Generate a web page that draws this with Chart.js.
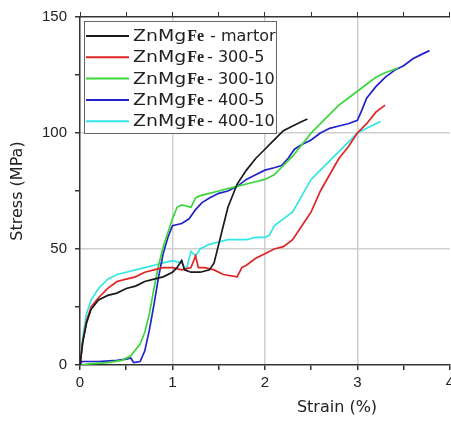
<!DOCTYPE html>
<html>
<head>
<meta charset="utf-8">
<script src="https://cdn.jsdelivr.net/npm/chart.js@4"></script>
<style>
  html, body { margin: 0; padding: 0; background: #fff; overflow: hidden; }
  #wrap { width: 458px; height: 423px; }
</style>
</head>
<body>
<div id="wrap"><canvas id="stressChart"></canvas></div>
<script>
// Curvas tensão x deformação
const seriesLabels = ['ZnMg Fe - martor', 'ZnMg Fe - 300-5', 'ZnMg Fe - 300-10', 'ZnMg Fe - 400-5', 'ZnMg Fe - 400-10'];
const seriesColors = ['#1a1a1a', '#e02424', '#3ad63a', '#2222cc', '#33e6e6'];

const martorStrain = [0, 0.03, 0.07, 0.12, 0.2, 0.3, 0.4, 0.5, 0.6, 0.7, 0.8, 0.9, 1.0, 1.05, 1.1, 1.13, 1.2, 1.3, 1.4, 1.45, 1.5, 1.55, 1.6, 1.7, 1.8, 1.9, 2.0, 2.1, 2.2, 2.3, 2.4, 2.46];
const martorStress = [0, 10, 18, 24, 28, 30, 31, 33, 34, 36, 37, 38, 40, 42, 45, 41, 40, 40, 41, 44, 52, 60, 68, 78, 84, 89, 93, 97, 101, 103, 105, 106];

const s3005Strain = [0, 0.03, 0.07, 0.12, 0.2, 0.3, 0.4, 0.5, 0.6, 0.7, 0.8, 0.9, 1.0, 1.1, 1.2, 1.25, 1.28, 1.35, 1.45, 1.55, 1.7, 1.75, 1.8, 1.9, 2.0, 2.1, 2.2, 2.3, 2.4, 2.5, 2.6, 2.7, 2.8, 2.9, 3.0, 3.1, 3.2, 3.3];
const s3005Stress = [0, 10, 19, 25, 29, 33, 36, 37, 38, 40, 41, 42, 42, 41, 42, 47, 42, 42, 41, 39, 38, 42, 43, 46, 48, 50, 51, 54, 60, 66, 75, 82, 89, 94, 100, 104, 109, 112];

const s30010Strain = [0, 0.1, 0.3, 0.45, 0.55, 0.65, 0.7, 0.75, 0.8, 0.85, 0.9, 0.95, 1.0, 1.05, 1.1, 1.2, 1.25, 1.3, 1.4, 1.5, 1.6, 1.7, 1.8, 1.9, 2.0, 2.1, 2.2, 2.3, 2.4, 2.5, 2.6, 2.7, 2.8, 2.9, 3.0, 3.1, 3.2, 3.3, 3.44];
const s30010Stress = [0, 0.5, 1, 2, 4, 9, 14, 22, 33, 43, 51, 57, 63, 68, 69, 68, 72, 73, 74, 75, 76, 77, 78, 79, 80, 82, 86, 90, 95, 100, 104, 108, 112, 115, 118, 121, 124, 126, 128];

const s4005Strain = [0, 0.02, 0.2, 0.4, 0.5, 0.55, 0.58, 0.65, 0.7, 0.75, 0.8, 0.85, 0.9, 0.95, 1.0, 1.1, 1.18, 1.25, 1.32, 1.4, 1.5, 1.6, 1.7, 1.8, 1.9, 2.0, 2.1, 2.18, 2.25, 2.32, 2.4, 2.5, 2.6, 2.7, 2.8, 2.9, 3.0, 3.05, 3.1, 3.2, 3.3, 3.4, 3.5, 3.6, 3.7, 3.78];
const s4005Stress = [0, 1.5, 1.5, 2, 2.5, 3, 1, 1.5, 6, 15, 26, 38, 48, 55, 60, 61, 63, 67, 70, 72, 74, 75, 77, 80, 82, 84, 85, 86, 89, 93, 95, 97, 100, 102, 103, 104, 105.5, 110, 115, 120, 124, 127, 129, 132, 134, 135.5];

const s40010Strain = [0, 0.03, 0.07, 0.12, 0.2, 0.3, 0.4, 0.5, 0.6, 0.7, 0.8, 0.9, 1.0, 1.1, 1.15, 1.2, 1.25, 1.3, 1.4, 1.5, 1.6, 1.7, 1.8, 1.9, 2.0, 2.05, 2.1, 2.2, 2.3, 2.4, 2.5, 2.6, 2.7, 2.8, 2.9, 3.0, 3.1, 3.2, 3.25];
const s40010Stress = [0, 12, 22, 28, 33, 37, 39, 40, 41, 42, 43, 44, 45, 44, 41, 49, 47, 50, 52, 53, 54, 54, 54, 55, 55, 56, 60, 63, 66, 73, 80, 84, 88, 92, 96, 100, 102, 104, 105];

const xTicks = [0, 1, 2, 3, 4];
const yTicks = [0, 50, 100, 150];

const strains = [martorStrain, s3005Strain, s30010Strain, s4005Strain, s40010Strain];
const stresses = [martorStress, s3005Stress, s30010Stress, s4005Stress, s40010Stress];

const FONT = "'Liberation Sans', Arial, sans-serif";
const WIDE = "'DejaVu Sans', sans-serif";

const datasets = seriesLabels.map((label, i) => ({
    label: label,
    data: strains[i].map((x, j) => ({ x: x, y: stresses[i][j] })),
    borderColor: seriesColors[i],
    backgroundColor: seriesColors[i],
    borderWidth: 1.7,
    pointRadius: 0,
    tension: 0,
    fill: false
}));

// legenda desenhada dentro da área do gráfico ("Fe" em negrito serifado)
const legendBox = {
    id: 'legendBox',
    afterDraw(chart) {
        const ctx = chart.ctx;
        const a = chart.chartArea;
        const x0 = a.left + 4, y0 = a.top + 4;
        ctx.save();
        ctx.fillStyle = '#fff';
        ctx.fillRect(x0, y0, 192, 112);
        ctx.strokeStyle = '#666';
        ctx.lineWidth = 1;
        ctx.strokeRect(x0 + 0.5, y0 + 0.5, 192, 112);
        ctx.textBaseline = 'middle';
        chart.data.datasets.forEach((ds, i) => {
            const y = y0 + 15 + i * 21.3;
            ctx.strokeStyle = ds.borderColor;
            ctx.lineWidth = 2;
            ctx.beginPath();
            ctx.moveTo(x0 + 2, y);
            ctx.lineTo(x0 + 45, y);
            ctx.stroke();
            const parts = ds.label.split(' Fe ');
            let tx = x0 + 49;
            ctx.fillStyle = '#222';
            ctx.font = '16px ' + WIDE;
            ctx.save();
            ctx.translate(tx, y + 1);
            ctx.scale(1.18, 1);
            ctx.fillText(parts[0], 0, 0);
            ctx.restore();
            tx += ctx.measureText(parts[0]).width * 1.18 + 1;
            ctx.font = "bold 16px 'Liberation Serif', 'Times New Roman', serif";
            ctx.fillText('Fe', tx, y + 1);
            tx += ctx.measureText('Fe').width + (i === 0 ? 6 : 3);
            ctx.font = '16px ' + WIDE;
            ctx.fillText(parts[1], tx, y + 1);
        });
        // título do eixo x
        ctx.fillStyle = '#222';
        ctx.font = '16px ' + WIDE;
        ctx.textAlign = 'center';
        ctx.fillText('Strain (%)', 337, 408);
        ctx.restore();
    }
};

document.addEventListener('DOMContentLoaded', () => {
    const ctx = document.getElementById('stressChart').getContext('2d');
    new Chart(ctx, {
        type: 'line',
        data: { datasets: datasets },
        plugins: [legendBox],
        options: {
            responsive: true,
            maintainAspectRatio: false,
            animation: false,
            layout: { padding: { left: 0, right: 5, top: 0, bottom: 0 } },
            plugins: { legend: { display: false }, tooltip: { enabled: false } },
            scales: {
                x: {
                    type: 'linear',
                    min: xTicks[0],
                    max: xTicks[xTicks.length - 1],
                    afterFit: (s) => { s.height = 58; },
                    ticks: {
                        stepSize: 0.5,
                        autoSkip: false,
                        maxRotation: 0,
                        padding: 4,
                        color: '#222',
                        font: { family: FONT, size: 15 },
                        callback: (v) => xTicks.includes(v) ? String(v) : ''
                    },
                    grid: {
                        color: (c) => (c.tick && [1, 2, 3].includes(c.tick.value)) ? '#cfcfcf' : 'rgba(0,0,0,0)',
                        lineWidth: 1.5,
                        tickColor: '#333',
                        tickLength: 5
                    },
                    border: { color: '#333', width: 1.5 }
                },
                x2: {
                    type: 'linear',
                    position: 'top',
                    min: xTicks[0],
                    max: xTicks[xTicks.length - 1],
                    afterFit: (s) => { s.height = 12; },
                    ticks: { stepSize: 0.5, display: false },
                    grid: { drawOnChartArea: false, tickColor: '#333', tickLength: 5 },
                    border: { color: '#333', width: 1.5 }
                },
                y: {
                    min: yTicks[0],
                    max: yTicks[yTicks.length - 1],
                    afterFit: (s) => { s.width = 80; },
                    ticks: {
                        stepSize: 25,
                        autoSkip: false,
                        padding: 8,
                        color: '#222',
                        font: { family: FONT, size: 15 },
                        callback: (v) => yTicks.includes(v) ? String(v) : ''
                    },
                    grid: {
                        color: (c) => (c.tick && [50, 100].includes(c.tick.value)) ? '#cfcfcf' : 'rgba(0,0,0,0)',
                        lineWidth: 1.5,
                        tickColor: '#333',
                        tickLength: 5
                    },
                    border: { color: '#333', width: 1.5 },
                    title: {
                        display: true,
                        text: 'Stress (MPa)',
                        color: '#222',
                        font: { family: WIDE, size: 16 },
                        padding: { top: 8, bottom: 0 }
                    }
                }
            }
        }
    });
});
</script>
</body>
</html>
